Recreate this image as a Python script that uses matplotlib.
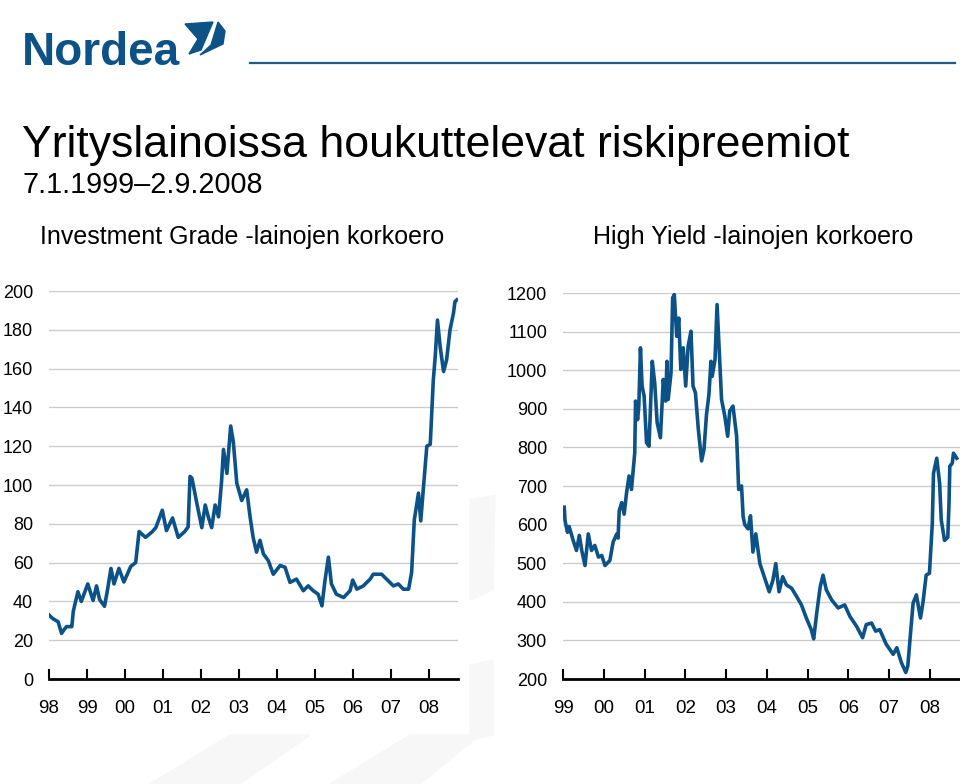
import matplotlib
matplotlib.use('Agg')
import matplotlib.pyplot as plt
from matplotlib.patches import Polygon
from matplotlib.lines import Line2D

# Investment Grade -spread (x in years from the "98" tick)
ig_pos = [0.00, 0.05, 0.11, 0.24, 0.33, 0.40, 0.46, 0.55, 0.60, 0.64, 0.76, 0.85,
          1.02, 1.16, 1.25, 1.33, 1.46, 1.54, 1.63, 1.71, 1.84, 1.97, 2.15, 2.28,
          2.37, 2.54, 2.72, 2.81, 2.98, 3.09, 3.25, 3.40, 3.57, 3.66, 3.71, 3.76,
          3.89, 4.02, 4.11, 4.19, 4.28, 4.37, 4.46, 4.54, 4.59, 4.68, 4.78, 4.85,
          4.94, 5.07, 5.20, 5.29, 5.37, 5.46, 5.55, 5.64, 5.77, 5.90, 6.08, 6.21,
          6.34, 6.51, 6.69, 6.82, 6.95, 7.08, 7.18, 7.26, 7.35, 7.43, 7.56, 7.75,
          7.92, 7.99, 8.10, 8.27, 8.45, 8.53, 8.75, 8.88, 9.06, 9.19, 9.32, 9.46,
          9.54, 9.61, 9.72, 9.78, 9.85, 9.94, 10.03, 10.11, 10.16, 10.22, 10.29,
          10.38, 10.46, 10.55, 10.64, 10.68, 10.73]
ig_val = [33, 32, 31, 29.5, 23.5, 25.5, 27, 27, 27, 35, 45, 40,
          49, 40.5, 48, 41, 37.5, 46, 57, 49, 57, 50, 58, 60,
          76, 73, 76, 78, 87, 76.5, 83, 73, 76, 78.4, 104.4, 103.5,
          90.5, 78, 89.7, 83.6, 78, 89.7, 83.6, 101.8, 118.3, 106, 130.4, 122,
          101, 92, 97.5, 83.6, 73, 65.4, 71.5, 64.5, 61, 54, 58.5, 57.6,
          49.8, 51.5, 45.5, 48, 45.5, 43.7, 37.7, 50.7, 62.8, 49, 43.7, 42,
          45.5, 51, 46.3, 48, 51.5, 54, 54, 51.5, 48, 49, 46.3, 46.3,
          55, 82, 95.8, 81.5, 98.5, 120, 121, 154, 166, 185, 171.4,
          158.5, 164.5, 180, 188.5, 194.5, 195.4]

# High Yield -spread (x in years from the "99" tick)
hy_pos = [0.03, 0.05, 0.11, 0.15, 0.25, 0.33, 0.40, 0.46, 0.54, 0.62, 0.70, 0.78,
          0.87, 0.95, 1.03, 1.15, 1.23, 1.32, 1.35, 1.38, 1.44, 1.50, 1.56, 1.62,
          1.68, 1.76, 1.78, 1.83, 1.86, 1.90, 1.94, 1.99, 2.05, 2.11, 2.19, 2.25,
          2.31, 2.39, 2.46, 2.52, 2.55, 2.58, 2.65, 2.69, 2.73, 2.79, 2.84, 2.89,
          2.95, 3.01, 3.07, 3.14, 3.19, 3.25, 3.32, 3.40, 3.46, 3.52, 3.58, 3.63,
          3.66, 3.73, 3.78, 3.82, 3.89, 3.97, 4.04, 4.09, 4.17, 4.26, 4.31, 4.38,
          4.42, 4.46, 4.54, 4.60, 4.66, 4.73, 4.83, 4.95, 5.06, 5.15, 5.22, 5.30,
          5.39, 5.48, 5.61, 5.73, 5.85, 5.97, 6.09, 6.15, 6.23, 6.31, 6.38, 6.46,
          6.59, 6.75, 6.91, 7.04, 7.20, 7.35, 7.44, 7.57, 7.67, 7.77, 7.93, 8.10,
          8.19, 8.30, 8.41, 8.46, 8.52, 8.59, 8.67, 8.77, 8.83, 8.91, 8.99, 9.06,
          9.09, 9.17, 9.24, 9.28, 9.36, 9.44, 9.47, 9.49, 9.55, 9.58, 9.66]
hy_val = [645, 610, 580, 595, 559, 533, 572, 533, 494, 576, 533, 546,
          516, 520, 494, 507, 555, 576, 565, 636, 657, 627, 683, 726,
          691, 786, 920, 872, 907, 1058, 959, 933, 812, 803, 1023, 967,
          864, 825, 976, 920, 1023, 924, 993, 1187, 1196, 1088, 1135, 1002,
          1058, 959, 1062, 1101, 959, 941, 847, 765, 795, 885, 937, 1023,
          984, 1028, 1170, 1079, 924, 881, 829, 894, 907, 829, 691, 700,
          620, 600, 589, 623, 529, 576, 499, 461, 426, 456, 499, 426,
          465, 444, 435, 414, 392, 358, 328, 304, 375, 439, 469, 431,
          405, 384, 392, 362, 337, 307, 341, 345, 324, 328, 290, 264,
          281, 243, 217, 234, 311, 397, 418, 358, 397, 469, 474, 602,
          733, 772, 707, 612, 559, 567, 653, 751, 759, 785, 772]

ig_xlabels = ['98', '99', '00', '01', '02', '03', '04', '05', '06', '07', '08']
hy_xlabels = ['99', '00', '01', '02', '03', '04', '05', '06', '07', '08']
ig_yticks = [0, 20, 40, 60, 80, 100, 120, 140, 160, 180, 200]
hy_yticks = [200, 300, 400, 500, 600, 700, 800, 900, 1000, 1100, 1200]

title = 'Yrityslainoissa houkuttelevat riskipreemiot'
period = '7.1.1999\u20132.9.2008'
ig_title = 'Investment Grade -lainojen korkoero'
hy_title = 'High Yield -lainojen korkoero'

blue = '#0d5287'
plt.rcParams['font.family'] = ['Liberation Sans', 'DejaVu Sans']

W, H = 960, 784
fig = plt.figure(figsize=(W / 100, H / 100), dpi=100)
renderer = fig.canvas.get_renderer()


def fx(px):
    return px / W


def fy(py):
    return 1 - py / H


def fit_text(x, y, s, width_px, size=20, **kw):
    # scale the font so the text spans about width_px pixels
    t = fig.text(fx(x), fy(y), s, fontsize=size, **kw)
    w = t.get_window_extent(renderer).width
    t.set_fontsize(size * width_px / w)
    return t


# faint background shapes
for pts in [[(150, 784), (230, 735), (310, 735), (240, 784)],
            [(330, 784), (410, 735), (480, 735), (420, 784)],
            [(470, 500), (495, 495), (493, 590), (470, 600)],
            [(470, 665), (493, 660), (493, 735), (470, 740)]]:
    fig.patches.append(Polygon([(fx(a), fy(b)) for a, b in pts], closed=True,
                               transform=fig.transFigure, color='#f7f7f7', zorder=0))

# logo
fit_text(22, 65, 'Nordea', 158, size=26, fontweight='bold', color=blue,
         ha='left', va='baseline')
sail_left = [(185, 24), (213, 22), (201, 50), (189, 54), (198, 39)]
sail_right = [(218, 22), (225, 31), (223, 44), (200, 55), (211, 45)]
for pts in [sail_left, sail_right]:
    fig.patches.append(Polygon([(fx(a), fy(b)) for a, b in pts], closed=True,
                               transform=fig.transFigure, color=blue, zorder=2))
fig.lines.append(Line2D([fx(250), fx(955)], [fy(63), fy(63)], transform=fig.transFigure,
                        color='#1c5d8c', lw=1.6))

fit_text(22, 145, title, 828, size=28, ha='left', va='center')
fit_text(22, 185, period, 240, size=20, ha='left', va='center')
fit_text(40, 237, ig_title, 405, size=16, ha='left', va='center')
fit_text(593, 237, hy_title, 320, size=16, ha='left', va='center')


def style(ax, yticks, xlabels):
    for s in ['top', 'right', 'left']:
        ax.spines[s].set_visible(False)
    ax.spines['bottom'].set_linewidth(2)
    ax.spines['bottom'].set_zorder(4)
    ax.set_yticks(yticks)
    ax.set_yticklabels([str(t) for t in yticks], fontsize=13)
    ax.tick_params(axis='y', length=0, pad=11.5)
    ax.set_xticks(range(len(xlabels)))
    ax.set_xticklabels(xlabels, fontsize=13.5)
    ax.tick_params(axis='x', direction='in', length=7, width=1.5, pad=15)
    ax.grid(axis='y', color='#cccccc', lw=1)
    ax.set_axisbelow(True)
    ax.patch.set_alpha(0)


ax1 = fig.add_axes([fx(49), fy(679), fx(409), 388 / H])
ax1.plot(ig_pos, ig_val, color=blue, lw=2.6, solid_joinstyle='round')
ax1.set_xlim(0, 10.76)
ax1.set_ylim(0, 200)
style(ax1, ig_yticks, ig_xlabels)

ax2 = fig.add_axes([fx(563), fy(679), fx(397), 386 / H])
ax2.plot(hy_pos, hy_val, color=blue, lw=2.6, solid_joinstyle='round')
ax2.set_xlim(0, 9.74)
ax2.set_ylim(200, 1200)
style(ax2, hy_yticks, hy_xlabels)

fig.savefig('out.png', dpi=100)
